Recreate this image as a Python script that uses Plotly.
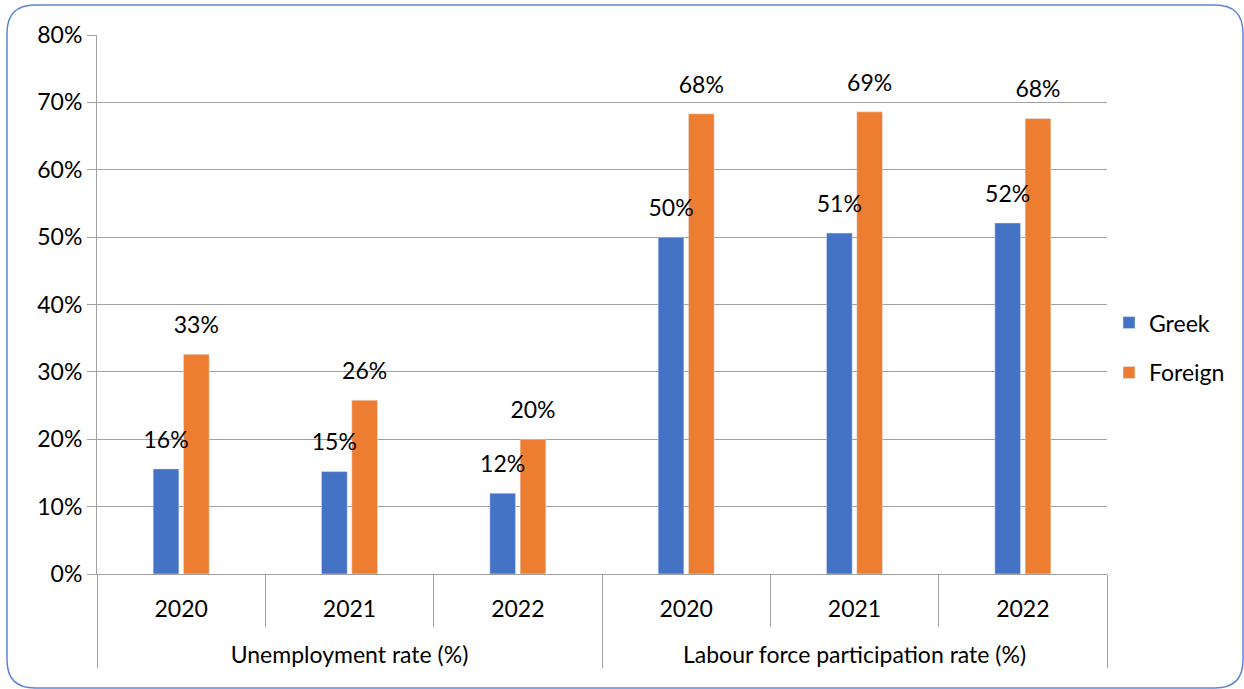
import plotly.graph_objects as go

groups = ["Unemployment rate (%)"] * 3 + ["Labour force participation rate (%)"] * 3
years = ["2020", "2021", "2022", "2020", "2021", "2022"]
greek = [0.156, 0.152, 0.120, 0.500, 0.506, 0.521]
foreign = [0.326, 0.258, 0.200, 0.683, 0.686, 0.676]
y_ticks = [0, 0.1, 0.2, 0.3, 0.4, 0.5, 0.6, 0.7, 0.8]

BLUE = "#4472C4"
ORANGE = "#ED7D31"
GRID = "#A0A0A0"
FONT = "Lato"
FS = 23

W, H = 1244, 689
L, R, T, B = 97, 1107, 35, 574

# year labels get a blank second line so the group level sits lower, as in the original
x = [groups, [f"{y}<br> " for y in years]]

fig = go.Figure()
fig.add_trace(go.Bar(name="Greek", x=x, y=greek, marker_color=BLUE,
                     offsetgroup="g", legendgroup="g"))
fig.add_trace(go.Bar(name="Foreign", x=x, y=foreign, marker_color=ORANGE,
                     offsetgroup="f", legendgroup="f"))
for name, vals in [("g", greek), ("f", foreign)]:
    fig.add_trace(go.Scatter(x=x, y=vals, mode="text+markers", offsetgroup=name,
                             marker=dict(size=23, opacity=0), text=[f"{v:.0%}" for v in vals],
                             textposition="top center", textfont=dict(size=FS, color="black", family=FONT),
                             showlegend=False, hoverinfo="skip", cliponaxis=False))


def px(xp):
    return (xp - L) / (R - L)


def py(yp):
    return (B - yp) / (B - T)


x0, x1, y0, y1, r = 7, 1243, 5, 688, 28
path = (f"M {px(x0+r)},{py(y0)} L {px(x1-r)},{py(y0)} Q {px(x1)},{py(y0)} {px(x1)},{py(y0+r)} "
        f"L {px(x1)},{py(y1-r)} Q {px(x1)},{py(y1)} {px(x1-r)},{py(y1)} "
        f"L {px(x0+r)},{py(y1)} Q {px(x0)},{py(y1)} {px(x0)},{py(y1-r)} "
        f"L {px(x0)},{py(y0+r)} Q {px(x0)},{py(y0)} {px(x0+r)},{py(y0)} Z")

fig.update_layout(
    width=W, height=H,
    margin=dict(l=L, r=W - R, t=T, b=H - B),
    paper_bgcolor="white", plot_bgcolor="white",
    barmode="group", bargap=0.64, bargroupgap=0.15,
    scattermode="group", scattergap=0.64,
    font=dict(family=FONT, size=FS, color="black"),
    legend=dict(x=0.002, y=0.42, xanchor="left", yanchor="middle", itemwidth=30,
                font=dict(size=FS, family=FONT), tracegroupgap=17, traceorder="grouped"),
    shapes=[dict(type="path", path=path, xref="paper", yref="paper",
                 line=dict(color="#5B86D6", width=1.5), layer="above")],
    showlegend=True,
)
fig.update_layout(legend_x=(1107 + 2 - L) / (R - L))
fig.update_yaxes(range=[0, 0.8], tickvals=y_ticks, tickformat=".0%", showgrid=True,
                 gridcolor=GRID, gridwidth=1, showline=True, linecolor=GRID,
                 ticks="outside", ticklen=9, tickcolor=GRID, zeroline=False,
                 tickfont=dict(size=FS, family=FONT), fixedrange=True, automargin=False)
fig.update_xaxes(type="multicategory", showline=True, linecolor=GRID, ticks="outside",
                 ticklen=52, tickcolor=GRID, tickson="boundaries", showdividers=True,
                 dividercolor=GRID, dividerwidth=1, tickfont=dict(size=FS, family=FONT),
                 ticklabelstandoff=14, automargin=False)

fig.write_html("out.html")
